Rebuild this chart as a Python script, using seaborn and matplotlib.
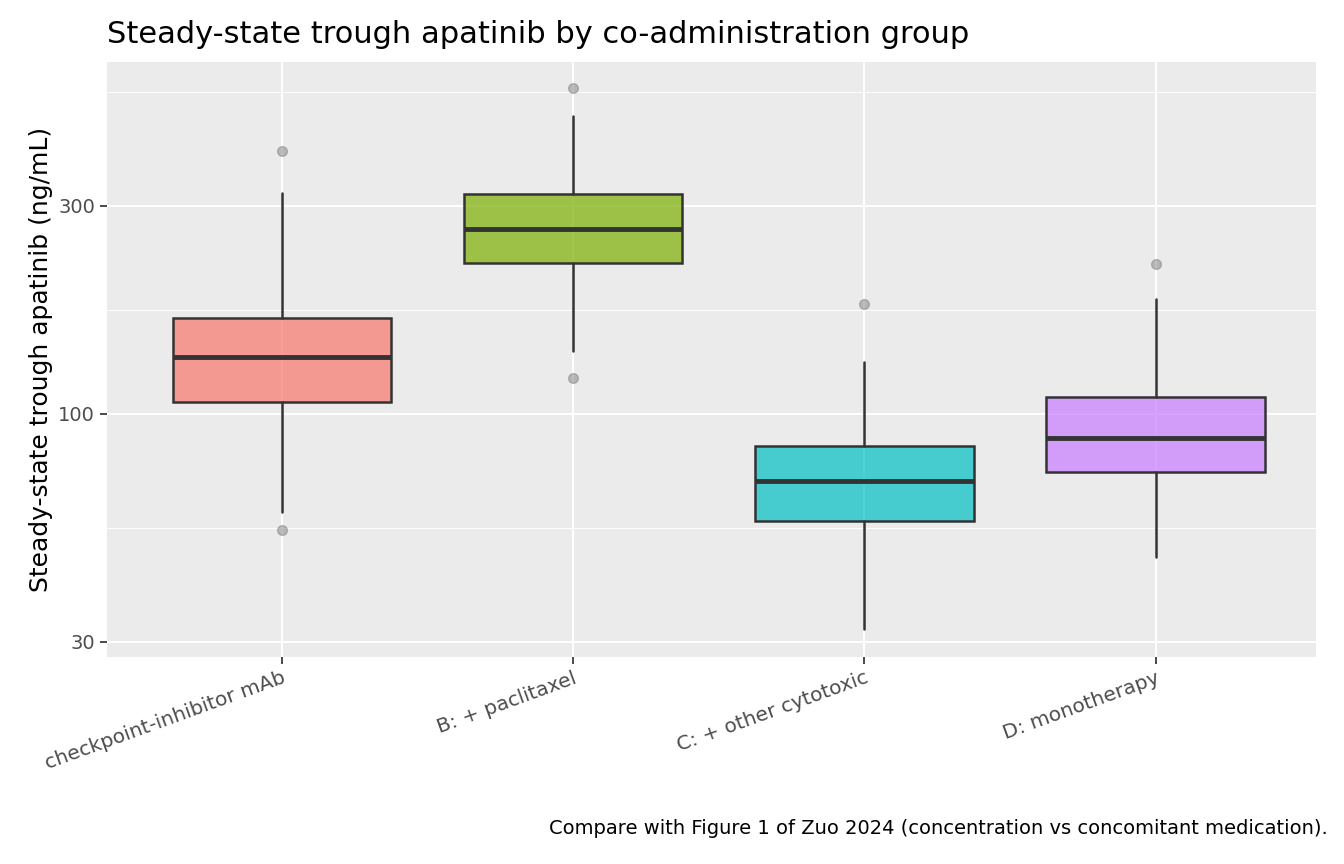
import numpy as np
import seaborn as sns
import matplotlib.pyplot as plt
from matplotlib.colors import to_rgba
from matplotlib.ticker import FixedLocator, NullFormatter

groups = ["checkpoint-inhibitor mAb", "B: + paclitaxel", "C: + other cytotoxic", "D: monotherapy"]
medians = [135, 266, 70.2, 88]
q1 = [106.5, 222, 56.8, 73.6]
q3 = [166, 320, 84.5, 109]
whislo = [59.6, 139, 32, 47]
whishi = [321, 482, 131.6, 183.5]
outliers = [[401, 54.2], [559, 121], [179], [221]]
colors = ["#F8766D", "#7CAE00", "#00BFC4", "#C77CFF"]

sns.set_theme(style="darkgrid", rc={"axes.facecolor": "#EBEBEB", "grid.color": "white"})
plt.rcParams['font.family'] = ['DejaVu Sans']

fig = plt.figure(figsize=(13.44, 8.64), dpi=100)
ax = fig.add_axes([0.0796, 0.240, 0.8994, 0.688])

stats = []
for i, g in enumerate(groups):
    stats.append(dict(med=medians[i], q1=q1[i], q3=q3[i], whislo=whislo[i],
                      whishi=whishi[i], fliers=outliers[i], label=g))

bp = ax.bxp(stats, positions=range(len(groups)), widths=0.75, patch_artist=True,
            showcaps=False,
            boxprops=dict(edgecolor="#333333", linewidth=1.8),
            medianprops=dict(color="#333333", linewidth=3.5),
            whiskerprops=dict(color="#333333", linewidth=1.8),
            flierprops=dict(marker="o", markerfacecolor="grey", markeredgecolor="grey",
                            alpha=0.5, markersize=7))
for patch, c in zip(bp["boxes"], colors):
    patch.set_facecolor(to_rgba(c, 0.7))
    patch.set_edgecolor("#333333")

ax.set_yscale("log")
ax.set_ylim(27.7, 641)
ax.set_xlim(-0.6, 3.55)
ax.yaxis.set_major_locator(FixedLocator([30, 100, 300]))
ax.set_yticklabels(["30", "100", "300"])
ax.yaxis.set_minor_locator(FixedLocator([54.8, 173, 548]))
ax.yaxis.set_minor_formatter(NullFormatter())
ax.grid(True, which="major", color="white", linewidth=1.4)
ax.grid(True, which="minor", axis="y", color="white", linewidth=0.7)
ax.set_axisbelow(True)
for s in ax.spines.values():
    s.set_visible(False)

ax.set_xticks(range(len(groups)))
ax.set_xticklabels(groups, rotation=20, ha="right", rotation_mode="anchor", fontsize=14.5, color="#4D4D4D")
ax.tick_params(axis="y", labelsize=14, labelcolor="#4D4D4D")
ax.tick_params(axis="both", which="major", length=5, color="#333333", bottom=True, left=True)
ax.tick_params(axis="y", which="minor", length=0)

ax.set_ylabel("Steady-state trough apatinib (ng/mL)", fontsize=18, color="black")
ax.set_xlabel("")
ax.set_title("Steady-state trough apatinib by co-administration group", loc="left",
             fontsize=22, pad=14, color="black")
fig.text(0.988, 0.035, "Compare with Figure 1 of Zuo 2024 (concentration vs concomitant medication).",
         ha="right", fontsize=14, color="black")

fig.savefig("out.png", dpi=100)
